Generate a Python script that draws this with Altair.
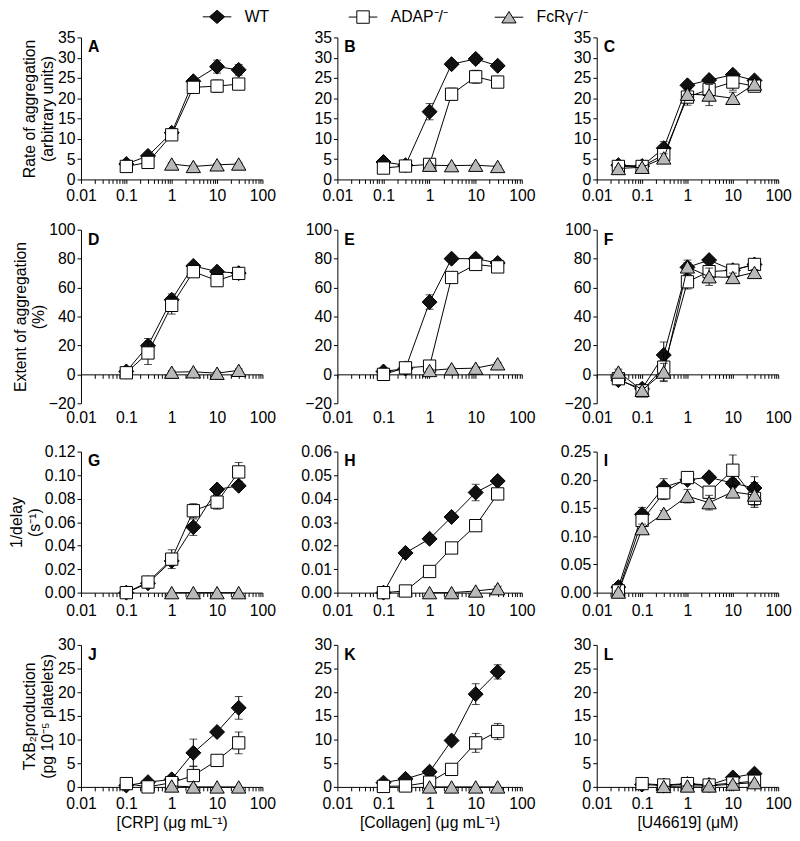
import altair as alt
import pandas as pd

FONT = "Liberation Sans"
FS = 16

# ---------------- series / styling ----------------
SERIES = ["WT", "ADAP⁻/⁻", "FcRγ⁻/⁻"]
FILLS = ["#111111", "#ffffff", "#b9b9b9"]
SHAPES = ["diamond", "square", "triangle-up"]
SIZES = [230, 155, 210]
LEGEND_PATHS = [
    "M-2,0H-1.07M1.07,0H2M-1.07,0L0,-0.93L1.07,0L0,0.93Z",
    "M-2,0H-0.87M0.87,0H2M-0.87,-0.87H0.87V0.87H-0.87Z",
    "M-2,0H-0.5M0.5,0H2M0,-0.8L1,0.8H-1Z",
]
LETTERS = ["A", "B", "C", "D", "E", "F", "G", "H", "I", "J", "K", "L"]

# ---------------- x values (agonist concentration) ----------------
X_CRP = [0.1, 0.3, 1, 3, 10, 30]
X_COL = [0.1, 0.3, 1, 3, 10, 30]
X_U46 = [0.03, 0.1, 0.3, 1, 3, 10, 30]
X_FCR = [1, 3, 10, 30]
X_L = [0.1, 0.3, 1, 3, 10, 30]
X_L_FCR = [0.3, 1, 3, 10, 30]

# ---------------- rate of aggregation ----------------
A_WT = [3.8, 5.8, 11.5, 24.2, 27.8, 27.0]
A_WT_ERR = [0.4, 0.5, 0.8, 0.8, 1.6, 1.3]
A_ADAP = [3.2, 4.2, 11.0, 22.7, 23.0, 23.5]
A_ADAP_ERR = [0.5, 0.6, 1.0, 1.0, 1.5, 1.2]
A_FCR = [3.8, 3.2, 3.6, 3.8]
A_FCR_ERR = [0.3, 0.3, 0.3, 0.3]

B_WT = [4.3, 3.5, 16.7, 28.4, 29.7, 28.0]
B_WT_ERR = [0.3, 0.3, 2.0, 0.8, 1.0, 0.8]
B_ADAP = [2.8, 3.3, 3.7, 21.0, 25.3, 24.0]
B_ADAP_ERR = [0.5, 0.5, 0.5, 1.5, 1.6, 1.0]
B_FCR = [3.5, 3.4, 3.5, 3.2]
B_FCR_ERR = [0.3, 0.3, 0.3, 0.3]

C_WT = [3.5, 3.3, 7.7, 23.2, 24.5, 25.8, 24.4]
C_WT_ERR = [0.4, 0.4, 1.6, 0.8, 0.8, 1.0, 0.8]
C_ADAP = [3.2, 3.2, 6.1, 20.3, 22.2, 24.0, 23.0]
C_ADAP_ERR = [0.4, 0.4, 1.5, 2.0, 1.5, 2.0, 1.0]
C_FCR = [2.7, 3.0, 5.3, 21.0, 20.8, 20.0, 23.5]
C_FCR_ERR = [0.3, 0.4, 1.0, 1.5, 2.6, 1.5, 1.0]

# ---------------- extent of aggregation ----------------
D_WT = [2.0, 19.8, 51.6, 75.0, 71.0, 70.0]
D_WT_ERR = [1.0, 5.0, 4.0, 2.0, 2.0, 2.0]
D_ADAP = [1.1, 14.8, 47.7, 71.0, 64.8, 69.8]
D_ADAP_ERR = [1.0, 8.0, 6.0, 3.0, 3.0, 3.0]
D_FCR = [1.5, 1.8, 0.8, 2.8]
D_FCR_ERR = [1.0, 1.0, 1.0, 1.0]

E_WT = [2.0, 4.0, 50.0, 80.0, 80.0, 77.0]
E_WT_ERR = [1.0, 1.0, 5.0, 2.0, 2.0, 2.0]
E_ADAP = [0.0, 4.5, 5.7, 67.0, 76.0, 74.3]
E_ADAP_ERR = [1.0, 1.0, 1.0, 3.0, 3.0, 3.0]
E_FCR = [2.7, 3.9, 4.3, 7.3]
E_FCR_ERR = [1.0, 1.0, 1.0, 1.0]

F_WT = [-4.0, -10.0, 13.4, 74.0, 79.0, 72.0, 76.0]
F_WT_ERR = [2.5, 3.0, 9.0, 5.0, 2.0, 2.0, 2.0]
F_ADAP = [-3.0, -11.4, 5.0, 64.0, 71.0, 72.0, 76.0]
F_ADAP_ERR = [2.0, 2.0, 10.0, 5.0, 3.0, 3.0, 2.0]
F_FCR = [1.6, -11.0, 1.6, 74.3, 67.5, 67.0, 70.5]
F_FCR_ERR = [2.0, 2.0, 6.0, 3.0, 6.0, 3.0, 2.0]

# ---------------- 1/delay ----------------
G_WT = [0.0, 0.008, 0.027, 0.0557, 0.0878, 0.0909]
G_WT_ERR = [0.001, 0.002, 0.004, 0.007, 0.003, 0.003]
G_ADAP = [0.0, 0.009, 0.0285, 0.0697, 0.077, 0.1027]
G_ADAP_ERR = [0.001, 0.003, 0.008, 0.006, 0.006, 0.008]
G_FCR = [0.0, 0.0, 0.0, 0.0]
G_FCR_ERR = [0.0, 0.0, 0.0, 0.0]

H_WT = [0.0, 0.0169, 0.0229, 0.0322, 0.0426, 0.0475]
H_WT_ERR = [0.0005, 0.001, 0.001, 0.0015, 0.0035, 0.0015]
H_ADAP = [0.0, 0.0007, 0.009, 0.019, 0.0285, 0.042]
H_ADAP_ERR = [0.0005, 0.0005, 0.001, 0.001, 0.0015, 0.0015]
H_FCR = [0.0, 0.0, 0.0007, 0.0017]
H_FCR_ERR = [0.0, 0.0, 0.0005, 0.001]

I_WT = [0.0098, 0.139, 0.187, 0.200, 0.2045, 0.194, 0.1855]
I_WT_ERR = [0.003, 0.012, 0.015, 0.005, 0.005, 0.008, 0.02]
I_ADAP = [0.003, 0.128, 0.177, 0.204, 0.178, 0.217, 0.167]
I_ADAP_ERR = [0.003, 0.01, 0.012, 0.01, 0.01, 0.027, 0.013]
I_FCR = [0.001, 0.1135, 0.1405, 0.171, 0.1595, 0.1786, 0.173]
I_FCR_ERR = [0.002, 0.008, 0.005, 0.012, 0.013, 0.01, 0.022]

# ---------------- TxB2 production ----------------
J_WT = [0.3, 1.0, 1.6, 7.2, 11.6, 16.7]
J_WT_ERR = [0.2, 0.3, 0.4, 2.9, 0.6, 2.4]
J_ADAP = [0.7, 0.0, 0.9, 2.4, 5.6, 9.3]
J_ADAP_ERR = [0.2, 0.2, 0.3, 2.0, 0.6, 2.3]
J_FCR = [0.2, 0.0, 0.0, 0.0]
J_FCR_ERR = [0.1, 0.0, 0.0, 0.0]

K_WT = [0.9, 1.7, 3.2, 9.8, 19.6, 24.3]
K_WT_ERR = [0.3, 0.3, 0.4, 0.8, 2.2, 1.5]
K_ADAP = [0.1, 0.2, 1.0, 3.7, 9.3, 11.7]
K_ADAP_ERR = [0.2, 0.2, 0.3, 0.5, 2.0, 1.7]
K_FCR = [0.0, 0.0, 0.0, 0.0]
K_FCR_ERR = [0.0, 0.0, 0.0, 0.0]

L_WT = [0.5, 0.3, 0.6, 0.4, 2.0, 2.8]
L_WT_ERR = [0.2, 0.2, 0.3, 0.2, 0.5, 0.6]
L_ADAP = [0.7, 0.4, 0.7, 0.4, 0.8, 1.2]
L_ADAP_ERR = [0.2, 0.2, 0.2, 0.2, 0.3, 0.3]
L_FCR = [0.1, 0.2, 0.2, 0.6, 0.9]
L_FCR_ERR = [0.1, 0.1, 0.1, 0.2, 0.2]

# ---------------- axis texts ----------------
Y_TITLES = [
    ["Rate of aggregation", "(arbitrary  units)"],
    ["Extent of aggregation", "(%)"],
    ["1/delay", "(s⁻¹)"],
    ["TxB₂production", "(pg 10⁻⁵ platelets)"],
]
X_TITLES = ["[CRP] (μg mL⁻¹)", "[Collagen] (μg mL⁻¹)", "[U46619] (μM)"]

DECADES = [0.01, 0.1, 1, 10, 100]
X_TICKS = sorted({round(m * d, 6) for d in DECADES[:-1] for m in range(1, 10)} | {100})
LABEL_EXPR = ("abs(log(datum.value)/LN10 - round(log(datum.value)/LN10)) < 0.001 "
              "? datum.label : ''")

ROW_Y = [  # domain, tick values, format
    ([0, 35], [0, 5, 10, 15, 20, 25, 30, 35], "d"),
    ([-20, 100], [-20, 0, 20, 40, 60, 80, 100], "d"),
    None,
    ([0, 30], [0, 5, 10, 15, 20, 25, 30], "d"),
]
G_Y = ([0, 0.12], [0, 0.02, 0.04, 0.06, 0.08, 0.10, 0.12], ".2f")
H_Y = ([0, 0.06], [0, 0.01, 0.02, 0.03, 0.04, 0.05, 0.06], ".2f")
I_Y = ([0, 0.25], [0, 0.05, 0.10, 0.15, 0.20, 0.25], ".2f")

COL_W = [184, 187, 184]
ROW_H = [144, 176, 143, 144]
XLAB_PAD = [4, 6, 6, 5]

PANEL_DATA = [
    ([X_CRP, X_CRP, X_FCR], [A_WT, A_ADAP, A_FCR], [A_WT_ERR, A_ADAP_ERR, A_FCR_ERR], ROW_Y[0]),
    ([X_COL, X_COL, X_FCR], [B_WT, B_ADAP, B_FCR], [B_WT_ERR, B_ADAP_ERR, B_FCR_ERR], ROW_Y[0]),
    ([X_U46, X_U46, X_U46], [C_WT, C_ADAP, C_FCR], [C_WT_ERR, C_ADAP_ERR, C_FCR_ERR], ROW_Y[0]),
    ([X_CRP, X_CRP, X_FCR], [D_WT, D_ADAP, D_FCR], [D_WT_ERR, D_ADAP_ERR, D_FCR_ERR], ROW_Y[1]),
    ([X_COL, X_COL, X_FCR], [E_WT, E_ADAP, E_FCR], [E_WT_ERR, E_ADAP_ERR, E_FCR_ERR], ROW_Y[1]),
    ([X_U46, X_U46, X_U46], [F_WT, F_ADAP, F_FCR], [F_WT_ERR, F_ADAP_ERR, F_FCR_ERR], ROW_Y[1]),
    ([X_CRP, X_CRP, X_FCR], [G_WT, G_ADAP, G_FCR], [G_WT_ERR, G_ADAP_ERR, G_FCR_ERR], G_Y),
    ([X_COL, X_COL, X_FCR], [H_WT, H_ADAP, H_FCR], [H_WT_ERR, H_ADAP_ERR, H_FCR_ERR], H_Y),
    ([X_U46, X_U46, X_U46], [I_WT, I_ADAP, I_FCR], [I_WT_ERR, I_ADAP_ERR, I_FCR_ERR], I_Y),
    ([X_CRP, X_CRP, X_FCR], [J_WT, J_ADAP, J_FCR], [J_WT_ERR, J_ADAP_ERR, J_FCR_ERR], ROW_Y[3]),
    ([X_COL, X_COL, X_FCR], [K_WT, K_ADAP, K_FCR], [K_WT_ERR, K_ADAP_ERR, K_FCR_ERR], ROW_Y[3]),
    ([X_L, X_L, X_L_FCR], [L_WT, L_ADAP, L_FCR], [L_WT_ERR, L_ADAP_ERR, L_FCR_ERR], ROW_Y[3]),
]

XSCALE = alt.Scale(type="log", domain=[0.01, 100], nice=False)


def make_panel(idx):
    row, col = divmod(idx, 3)
    xs_l, ys_l, es_l, (ydom, yvals, yfmt) = PANEL_DATA[idx]
    w, h = COL_W[col], ROW_H[row]
    yscale = alt.Scale(domain=ydom, nice=False, zero=False)
    zero_axis = ydom[0] < 0

    yax_kw = dict(values=yvals, format=yfmt, orient="left", labelOverlap=False,
                  titlePadding=2, titleLineHeight=18)
    yax_kw["title"] = Y_TITLES[row] if col == 0 else None
    yaxis = alt.Axis(**yax_kw)

    xax_kw = dict(values=X_TICKS, format="~g", labelExpr=LABEL_EXPR, labelFlush=False,
                  labelOverlap=False, orient="bottom", titlePadding=3,
                  labelPadding=XLAB_PAD[row])
    xax_kw["title"] = X_TITLES[col] if row == 3 else None
    if zero_axis:
        xax_kw["labels"] = False
        xax_kw["offset"] = -h * (0 - ydom[0]) / (ydom[1] - ydom[0])
    xaxis_main = alt.Axis(**xax_kw)
    xaxis_labels = alt.Axis(values=DECADES, format="~g", labelFlush=False, labelOverlap=False,
                            orient="bottom", domain=False, ticks=False, tickSize=0,
                            labelPadding=XLAB_PAD[row], title=None)

    def X(field, which):
        if zero_axis:
            if which == "main":
                return alt.X(field, scale=XSCALE, axis=xaxis_main)
            if which == "labels":
                return alt.X(field, scale=XSCALE, axis=xaxis_labels)
            return alt.X(field, scale=XSCALE, axis=None)
        return alt.X(field, scale=XSCALE, axis=xaxis_main)

    def Y(field):
        return alt.Y(field, scale=yscale, axis=yaxis)

    layers = []
    for i in range(3):
        df = pd.DataFrame({"x": xs_l[i], "y": ys_l[i], "err": es_l[i]})
        df["lo"] = df["y"] - df["err"]
        df["hi"] = df["y"] + df["err"]
        base = alt.Chart(df)
        which = "main" if i == 0 else ("labels" if i == 2 else "none")
        err = base.transform_filter("datum.err > 0")
        rule = err.mark_rule(color="black", strokeWidth=1).encode(
            x=X("x:Q", "none"), y=Y("lo:Q"), y2="hi:Q")
        caps = err.transform_fold(["lo", "hi"], as_=["k", "v"]).mark_tick(
            color="black", thickness=1, size=8, orient="horizontal").encode(
            x=X("x:Q", "none"), y=Y("v:Q"))
        line = base.mark_line(color="black", strokeWidth=1).encode(
            x=X("x:Q", which), y=Y("y:Q"))
        pts = base.mark_point(shape=SHAPES[i], filled=True, fill=FILLS[i], stroke="black",
                              strokeWidth=1, size=SIZES[i], opacity=1).encode(
            x=X("x:Q", "none"), y=Y("y:Q"))
        layers += [rule, caps, line, pts]

    letter = alt.Chart(pd.DataFrame({"t": [LETTERS[idx]]})).mark_text(
        align="left", baseline="top", fontWeight="bold", fontSize=FS, font=FONT,
        color="black").encode(text="t:N", x=alt.value(7), y=alt.value(2))
    layers.append(letter)

    if idx == 0:
        leg = alt.Legend(orient="none", legendX=130, legendY=-29, direction="horizontal",
                         title=None, symbolSize=210, symbolStrokeColor="black",
                         symbolStrokeWidth=1, labelFontSize=FS, labelFont=FONT,
                         labelColor="black", labelOffset=20, gridAlign="all",
                         columnPadding=44, symbolOpacity=1, padding=0)
        ldf = pd.DataFrame({"series": SERIES, "x": [1, 1, 1], "y": [0, 0, 0]})
        legend_layer = alt.Chart(ldf).transform_filter("false").mark_point(
            filled=True, strokeWidth=1, opacity=1).encode(
            x=X("x:Q", "none"),
            y=Y("y:Q"),
            shape=alt.Shape("series:N", scale=alt.Scale(domain=SERIES, range=LEGEND_PATHS),
                            legend=leg),
            fill=alt.Fill("series:N", scale=alt.Scale(domain=SERIES, range=FILLS), legend=leg),
            stroke=alt.Stroke("series:N",
                              scale=alt.Scale(domain=SERIES, range=["black", "black", "black"]),
                              legend=leg),
        )
        layers.append(legend_layer)

    ch = alt.layer(*layers).properties(width=w, height=h)
    if zero_axis:
        ch = ch.resolve_axis(x="independent")
    return ch


panels = [make_panel(i) for i in range(12)]

chart = alt.concat(
    *panels, columns=3, align="each",
    spacing=alt.RowColnumber(row=19, column=24),
).properties(
    padding={"left": 0, "top": -5, "right": 0, "bottom": 4},
).configure_view(stroke=None).configure_axis(
    labelFont=FONT, titleFont=FONT, labelFontSize=FS, titleFontSize=FS,
    labelColor="black", titleColor="black", domainColor="black", tickColor="black",
    tickSize=4, labelPadding=2, titleFontWeight="normal", grid=False,
    domainWidth=1, tickWidth=1,
)

chart.save("out.html", embed_options={"renderer": "svg", "actions": False})
